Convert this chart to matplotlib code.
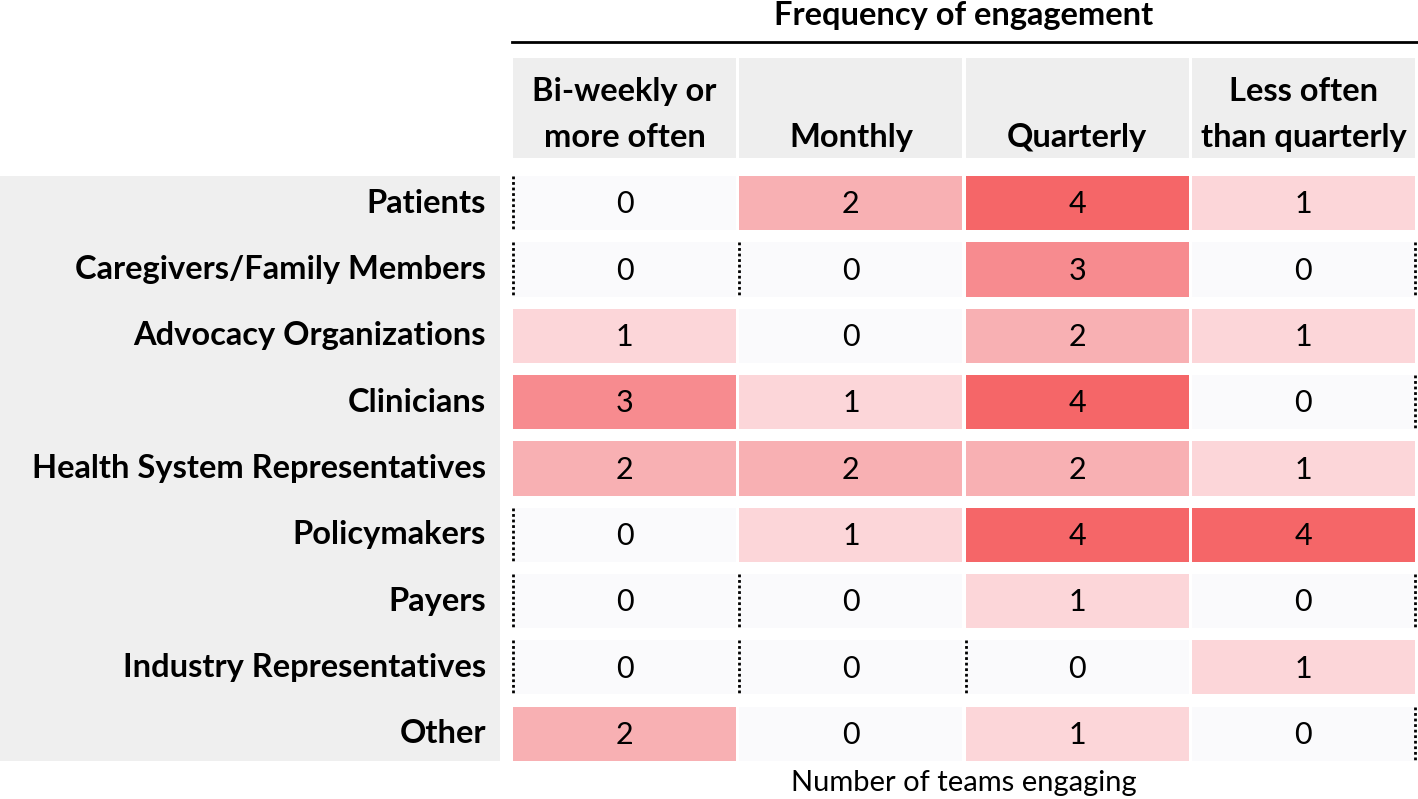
import matplotlib.pyplot as plt
from matplotlib.patches import Rectangle

# ---- data ----
stakeholders = [
    "Patients",
    "Caregivers/Family Members",
    "Advocacy Organizations",
    "Clinicians",
    "Health System Representatives",
    "Policymakers",
    "Payers",
    "Industry Representatives",
    "Other",
]
frequencies = [
    "Bi-weekly or\nmore often",
    "\nMonthly",
    "\nQuarterly",
    "Less often\nthan quarterly",
]
biweekly = [0, 0, 1, 3, 2, 0, 0, 0, 2]
monthly = [2, 0, 0, 1, 2, 1, 0, 0, 0]
quarterly = [4, 3, 2, 4, 2, 4, 1, 0, 1]
less_often = [1, 0, 1, 0, 1, 4, 0, 1, 0]

# dotted edge artefacts seen in the original (row, column, side)
dotted_edges = [
    (0, 0, "left"), (1, 0, "left"), (5, 0, "left"), (6, 0, "left"), (7, 0, "left"),
    (1, 1, "left"), (6, 1, "left"), (7, 1, "left"), (7, 2, "left"),
    (1, 3, "right"), (3, 3, "right"), (6, 3, "right"), (8, 3, "right"),
]

# colour scale by count
level_colors = ["#fafafc", "#fcd6d9", "#f8b0b3", "#f78b8f", "#f56668"]

BOLD = ["Lato", "DejaVu Sans"]
REG = ["Lato", "DejaVu Sans"]

columns = [biweekly, monthly, quarterly, less_often]
n_rows = len(stakeholders)

fig = plt.figure(figsize=(14.18, 7.99), dpi=100)
ax = fig.add_axes([0, 0, 1, 1])
ax.set_xlim(-2.7608, 3.5066)
ax.set_ylim(8.983, -3.063)
ax.axis("off")

cell_w = 0.985
cell_h = 0.815

# gray band behind the row labels
ax.add_patch(Rectangle((-2.7608, -cell_h / 2), -0.553 + 2.7608, n_rows - 1 + cell_h,
                       facecolor="#efefef", edgecolor="none"))

for r, name in enumerate(stakeholders):
    ax.text(-0.613, r, name, ha="right", va="center", fontsize=23.5,
            fontweight="bold", family=BOLD)
    for c, col in enumerate(columns):
        v = col[r]
        ax.add_patch(Rectangle((c - cell_w / 2, r - cell_h / 2), cell_w, cell_h,
                               facecolor=level_colors[v], edgecolor="none"))
        ax.text(c, r + 0.02, str(v), ha="center", va="center", fontsize=22,
                family=REG)

for r, c, side in dotted_edges:
    x = c - cell_w / 2 if side == "left" else c + cell_w / 2
    ax.plot([x, x], [r - cell_h / 2, r + cell_h / 2], color="black", lw=2,
            linestyle=(0, (1.0, 1.0)))

# header cells
hdr_top, hdr_bot = -2.19, -0.68
for c, label in enumerate(frequencies):
    ax.add_patch(Rectangle((c - cell_w / 2, hdr_top), cell_w, hdr_bot - hdr_top,
                           facecolor="#eeeeee", edgecolor="none"))
    ax.text(c, (hdr_top + hdr_bot) / 2 + 0.1, label, ha="center", va="center",
            fontsize=23.5, fontweight="bold", family=BOLD, linespacing=1.7)

# title and rule
ax.text(1.5, -2.83, "Frequency of engagement", ha="center", va="center",
        fontsize=23.5, fontweight="bold", family=BOLD)
ax.plot([-0.5, 3.5066], [-2.43, -2.43], color="black", lw=2)

ax.text(1.5, 8.74, "Number of teams engaging", ha="center", va="center",
        fontsize=21, family=REG)

fig.savefig("out.png", dpi=100)
